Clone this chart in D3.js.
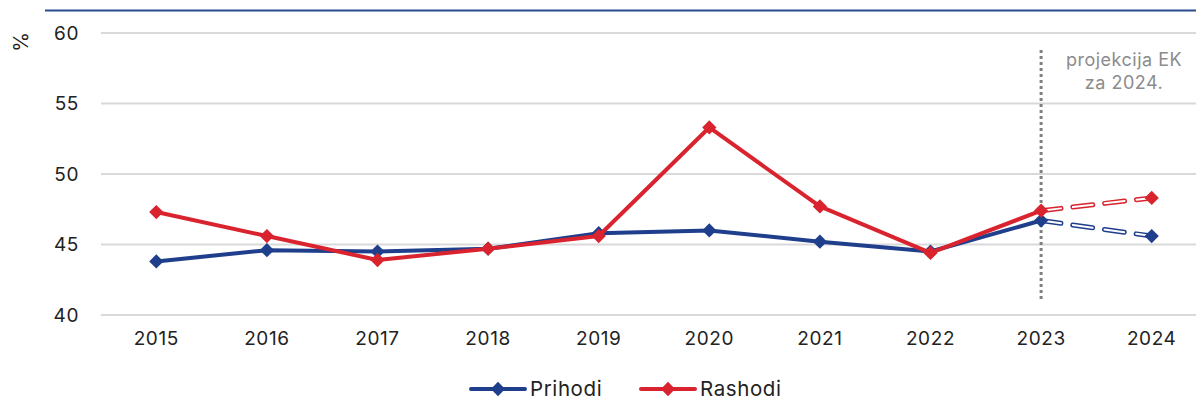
<!DOCTYPE html>
<html>
<head>
<meta charset="utf-8">
<script src="https://cdn.jsdelivr.net/npm/d3@7"></script>
<style>
  body { margin: 0; background: #fff; }
  text { font-family: "Inter", "Open Sans", sans-serif; }
</style>
</head>
<body>
<div id="wrapper"></div>
<script>
// DATA
const years = ["2015", "2016", "2017", "2018", "2019", "2020", "2021", "2022", "2023", "2024"]
const prihodi = [43.8, 44.6, 44.5, 44.7, 45.8, 46.0, 45.2, 44.5, 46.7, 45.6]
const rashodi = [47.3, 45.6, 43.9, 44.7, 45.6, 53.3, 47.7, 44.4, 47.4, 48.3]
const yTicks = [40, 45, 50, 55, 60]
const projectionFrom = "2023"
const noteLines = ["projekcija EK", "za 2024."]

const series = [
  { name: "Prihodi", values: prihodi, color: "#1f3f8c" },
  { name: "Rashodi", values: rashodi, color: "#d9232e" }
]

// DIMENSIONS
const dimensions = {
  width: 1196,
  height: 403,
  margin: { top: 33, right: -11, bottom: 88, left: 101 }
}
dimensions.boundedWidth = dimensions.width - dimensions.margin.left - dimensions.margin.right
dimensions.boundedHeight = dimensions.height - dimensions.margin.top - dimensions.margin.bottom

const svg = d3.select("#wrapper").append("svg")
  .attr("width", dimensions.width)
  .attr("height", dimensions.height)

// top rule
svg.append("line")
  .attr("x1", 45).attr("x2", dimensions.width)
  .attr("y1", 10.5).attr("y2", 10.5)
  .attr("stroke", "#2a4a8e").attr("stroke-width", 2)

const bounds = svg.append("g")
  .attr("transform", `translate(${dimensions.margin.left},${dimensions.margin.top})`)

// SCALES
const xScale = d3.scaleBand()
  .domain(years)
  .range([0, dimensions.boundedWidth])

const yScale = d3.scaleLinear()
  .domain([40, 60])
  .range([dimensions.boundedHeight, 0])

const xPos = d => xScale(d) + xScale.bandwidth() / 2

// GRID
bounds.append("g")
  .selectAll("line")
  .data(yTicks)
  .join("line")
  .attr("x1", 0).attr("x2", dimensions.boundedWidth)
  .attr("y1", d => yScale(d)).attr("y2", d => yScale(d))
  .attr("stroke", "#d9d9d9").attr("stroke-width", 2)

// AXES
const yAxis = bounds.append("g")
  .call(d3.axisLeft(yScale).tickValues(yTicks).tickSize(0).tickPadding(22))
yAxis.select(".domain").remove()
yAxis.selectAll("text").attr("font-size", 19).attr("letter-spacing", 0.6).attr("fill", "#222")

const xAxis = bounds.append("g")
  .attr("transform", `translate(0,${dimensions.boundedHeight})`)
  .call(d3.axisBottom(xScale).tickSize(0).tickPadding(17))
xAxis.select(".domain").remove()
xAxis.selectAll("text").attr("font-size", 19).attr("letter-spacing", 0.6).attr("fill", "#222")

svg.append("text")
  .attr("transform", "translate(28,42) rotate(-90)")
  .attr("text-anchor", "middle")
  .attr("font-size", 20)
  .attr("fill", "#222")
  .text("%")

// projection marker
const px = xPos(projectionFrom)
bounds.append("line")
  .attr("x1", px).attr("x2", px)
  .attr("y1", 17).attr("y2", 266)
  .attr("stroke", "#808080").attr("stroke-width", 3)
  .attr("stroke-dasharray", "3,3")

bounds.append("text")
  .attr("text-anchor", "middle")
  .attr("font-size", 18)
  .attr("letter-spacing", 0.5)
  .attr("fill", "#8c8c8c")
  .selectAll("tspan")
  .data(noteLines)
  .join("tspan")
  .attr("x", 1023)
  .attr("y", (d, i) => 33 + i * 23)
  .text(d => d)

// LINES
const line = d3.line()
  .x(d => xPos(d.year))
  .y(d => yScale(d.value))

const diamond = d3.symbol().type(d3.symbolDiamond2).size(130)
const pIdx = years.indexOf(projectionFrom)

series.forEach(s => {
  const pts = years.map((y, i) => ({ year: y, value: s.values[i] }))
  const solid = pts.slice(0, pIdx + 1)
  const proj = pts.slice(pIdx)

  // hollow dashed projection
  bounds.append("path")
    .datum(proj)
    .attr("d", line)
    .attr("fill", "none")
    .attr("stroke", s.color).attr("stroke-width", 5)
    .attr("stroke-dasharray", "20,12")
    .attr("stroke-linecap", "round")
  bounds.append("path")
    .datum(proj)
    .attr("d", line)
    .attr("fill", "none")
    .attr("stroke", "#fff").attr("stroke-width", 2)
    .attr("stroke-dasharray", "20,12")
    .attr("stroke-linecap", "round")

  bounds.append("path")
    .datum(solid)
    .attr("d", line)
    .attr("fill", "none")
    .attr("stroke", s.color).attr("stroke-width", 4)
    .attr("stroke-linejoin", "round")

  bounds.append("g")
    .selectAll("path")
    .data(pts)
    .join("path")
    .attr("transform", d => `translate(${xPos(d.year)},${yScale(d.value)})`)
    .attr("d", diamond)
    .attr("fill", s.color)
})

// LEGEND
const legend = svg.append("g").attr("transform", "translate(471,389)")
series.forEach((s, i) => {
  const g = legend.append("g").attr("transform", `translate(${i * 170},0)`)
  g.append("line")
    .attr("x1", 0).attr("x2", 54)
    .attr("stroke", s.color).attr("stroke-width", 4)
    .attr("stroke-linecap", "round")
  g.append("path")
    .attr("transform", "translate(27,0)")
    .attr("d", diamond)
    .attr("fill", s.color)
  g.append("text")
    .attr("x", 59).attr("y", 7)
    .attr("font-size", 20.5)
    .attr("letter-spacing", 0.6)
    .attr("fill", "#222")
    .text(s.name)
})
</script>
</body>
</html>
